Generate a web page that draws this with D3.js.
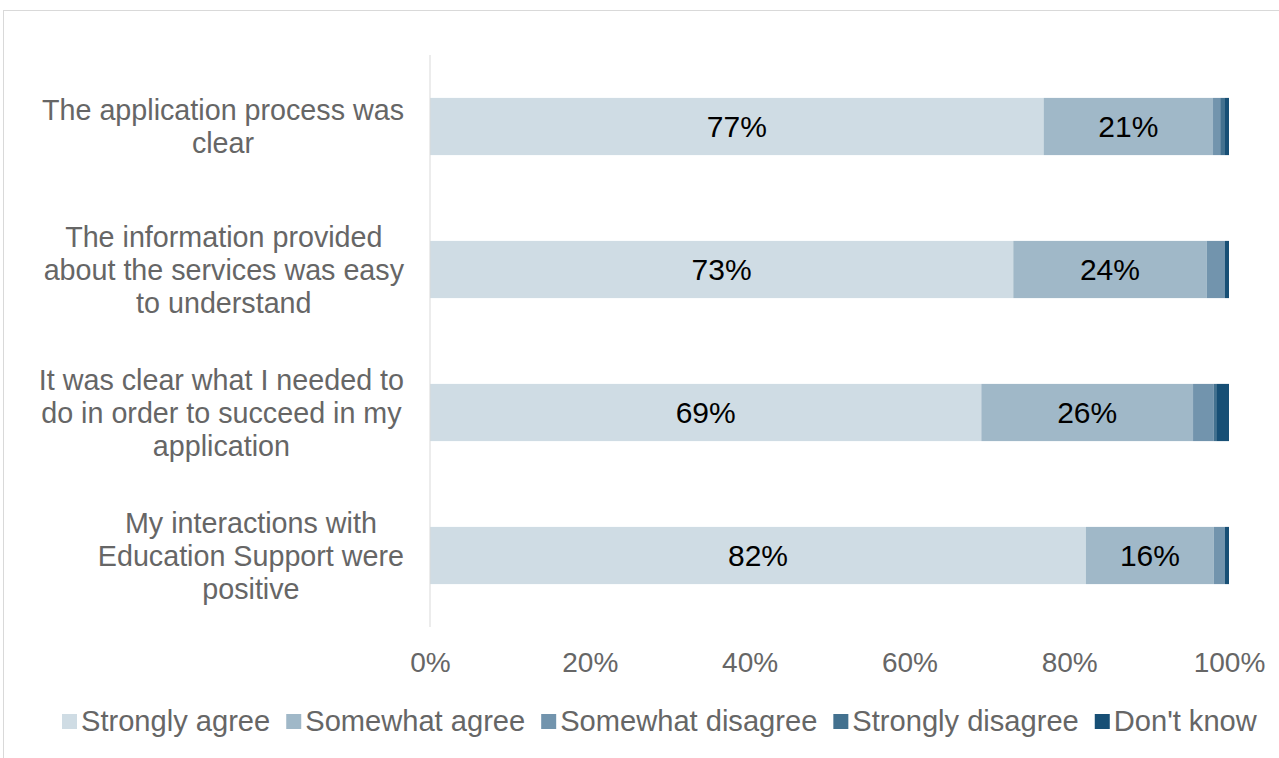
<!DOCTYPE html>
<html>
<head>
<meta charset="utf-8">
<script src="https://cdn.jsdelivr.net/npm/d3@7"></script>
<style>
  html, body { margin: 0; padding: 0; background: #fff; }
  svg { display: block; font-family: "Liberation Sans", Arial, sans-serif; }
</style>
</head>
<body>
<svg id="chart" width="1279" height="758"></svg>
<script>
// Survey statements (top to bottom)
const categories = [
  ["The application process was", "clear"],
  ["The information provided", "about the services was easy", "to understand"],
  ["It was clear what I needed to", "do in order to succeed in my", "application"],
  ["My interactions with", "Education Support were", "positive"]
];
const seriesNames = ["Strongly agree", "Somewhat agree", "Somewhat disagree", "Strongly disagree", "Don't know"];
const seriesColors = ["#cfdce4", "#a0b8c8", "#7294ad", "#43718f", "#174f75"];

// Percent of respondents per statement, one array per response
const stronglyAgree    = [76.8, 73.0, 69.0, 82.1];
const somewhatAgree    = [21.2, 24.2, 26.5, 16.0];
const somewhatDisagree = [0.9, 2.3, 2.6, 1.4];
const stronglyDisagree = [0.6, 0.0, 0.3, 0.0];
const dontKnow         = [0.5, 0.5, 1.6, 0.5];
// Labels printed on the two largest segments
const agreeLabels    = ["77%", "73%", "69%", "82%"];
const somewhatLabels = ["21%", "24%", "26%", "16%"];
const tickValues = [0, 20, 40, 60, 80, 100];

const textGrey = "#666666";

const series = [stronglyAgree, somewhatAgree, somewhatDisagree, stronglyDisagree, dontKnow];
const rows = categories.map((c, i) => {
  const r = { key: i };
  seriesNames.forEach((s, j) => r[s] = series[j][i]);
  return r;
});
const stacked = d3.stack().keys(seriesNames)(rows);

const svg = d3.select("#chart");

// chart frame
svg.append("rect")
  .attr("x", 3.5).attr("y", 10.5)
  .attr("width", 1400).attr("height", 800)
  .attr("fill", "none").attr("stroke", "#d9d9d9").attr("stroke-width", 1);

const x = d3.scaleLinear().domain([0, 100]).range([430, 1229]);
const y = d3.scaleBand().domain(d3.range(categories.length))
  .range([55, 627]).paddingInner(0.6).paddingOuter(0.3);

// bars
svg.append("g").selectAll("g")
  .data(stacked)
  .join("g")
  .attr("fill", (d, i) => seriesColors[i])
  .selectAll("rect")
  .data(d => d)
  .join("rect")
  .attr("x", d => x(d[0]))
  .attr("y", (d, i) => y(i))
  .attr("width", d => x(d[1]) - x(d[0]))
  .attr("height", y.bandwidth());

// value axis line
svg.append("line")
  .attr("x1", x(0)).attr("x2", x(0))
  .attr("y1", 55).attr("y2", 627)
  .attr("stroke", "#d9d9d9").attr("stroke-width", 1);

// segment labels
const labelSets = [agreeLabels, somewhatLabels];
labelSets.forEach((labels, s) => {
  svg.append("g").selectAll("text")
    .data(stacked[s])
    .join("text")
    .attr("x", d => (x(d[0]) + x(d[1])) / 2)
    .attr("y", (d, i) => y(i) + y.bandwidth() / 2)
    .attr("dy", "0.35em")
    .attr("text-anchor", "middle")
    .attr("font-size", 30)
    .attr("fill", "#000")
    .text((d, i) => labels[i]);
});

// category labels: each block is centred within its own width, right edge near the axis
const labelRight = 404;
const catG = svg.append("g");
categories.forEach((lines, i) => {
  const cy = y(i) + y.bandwidth() / 2;
  const lh = 33;
  const t = catG.append("text")
    .attr("text-anchor", "middle")
    .attr("font-size", 28.7)
    .attr("fill", textGrey);
  const spans = lines.map((ln, k) => t.append("tspan")
      .attr("y", cy + (k - (lines.length - 1) / 2) * lh)
      .attr("dy", "0.35em")
      .text(ln));
  const maxW = d3.max(spans, s => s.node().getComputedTextLength());
  spans.forEach(s => s.attr("x", labelRight - maxW / 2));
});

// tick labels
const xAxis = d3.axisBottom(x).tickValues(tickValues).tickFormat(d => d + "%").tickSize(0).tickPadding(0);
const axG = svg.append("g").attr("transform", "translate(0,652)").call(xAxis);
axG.select(".domain").remove();
axG.selectAll("text")
  .attr("font-size", 28)
  .attr("font-family", "Liberation Sans, Arial, sans-serif")
  .attr("fill", textGrey)
  .attr("dy", "0.71em");

// legend
const leg = svg.append("g");
let lx = 62;
seriesNames.forEach((name, i) => {
  leg.append("rect")
    .attr("x", lx).attr("y", 714)
    .attr("width", 15).attr("height", 15)
    .attr("fill", seriesColors[i]);
  const t = leg.append("text")
    .attr("x", lx + 19).attr("y", 731)
    .attr("font-size", 29.1)
    .attr("fill", textGrey)
    .text(name);
  lx += 19 + t.node().getComputedTextLength() + 16;
});
</script>
</body>
</html>
